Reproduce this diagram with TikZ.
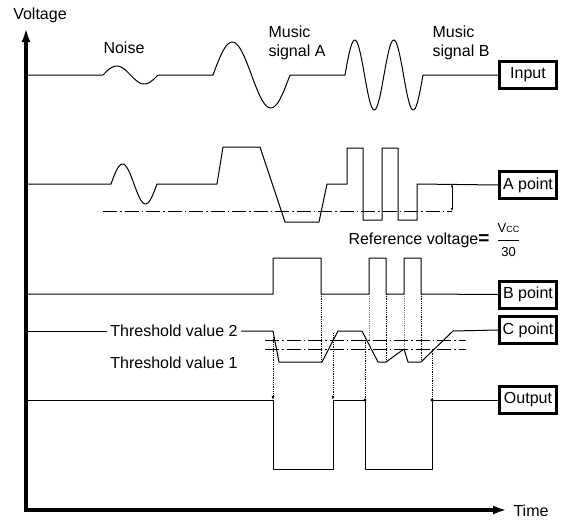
\documentclass[tikz,border=0pt]{standalone}
\usepackage{amsmath}
\usepackage{fontspec}
\setmainfont{Liberation Sans}
\usetikzlibrary{arrows.meta}

\begin{document}
\begin{tikzpicture}[x=1pt, y=-1pt,
        lbl/.style={font=\fontsize{16}{19}\selectfont},
        probe/.style={draw, line width=3pt, minimum width=57pt, minimum height=27pt, inner sep=1pt, font=\fontsize{16}{19}\selectfont},
        sig/.style={line width=1pt, line join=round},
        refline/.style={line width=0.9pt, dash pattern=on 14pt off 3pt on 1.5pt off 3pt},
        guide/.style={line width=0.8pt, densely dotted},
        axis/.style={line width=4pt, {Latex[length=14pt,width=9pt]}-{Latex[length=14pt,width=9pt]}}
    ]
        \useasboundingbox (0,0) rectangle (563,520);

        % axes
        \coordinate (top) at (26,28);
        \coordinate (right) at (507,510);
        \draw[axis] (top) |- (right);
        \node[lbl] (volt) at (40,15) {Voltage};
        \node[lbl, anchor=west] (time) at (510,511) {Time};

        % probe boxes
        \node[probe] (inp) at (528,75) {Input};
        \node[probe] (apt) at (528,185) {A point};
        \node[probe] (bpt) at (528,294.5) {B point};
        \node[probe] (cpt) at (528,330) {C point};
        \node[probe] (out) at (528,400) {Output};

        % labels
        \node[lbl] (noise) at (124,48) {Noise};
        \node[lbl, anchor=north west, align=left] (musa) at (265,22) {Music\\signal A};
        \node[lbl, anchor=north west, align=left] (musb) at (429,22) {Music\\signal B};
        \node[lbl, anchor=west] (ref) at (345,240) {Reference voltage{\fontsize{19}{19}\selectfont\textbf{=}}\hspace{7pt}$\dfrac{\text{\fontsize{13}{13}\selectfont V{\fontsize{9}{9}\selectfont CC}}}{\text{\fontsize{13}{13}\selectfont 30}}$};
        \node[lbl] (th2) at (174,331) {Threshold value 2};
        \node[lbl] (th1) at (174,363) {Threshold value 1};

        % input
        \draw[sig] (26,75) -- (103,75)
            -- plot[domain=103:158, samples=40, variable=\x] (\x, {75-9*sin((\x-103)/55*360)})
            -- (213,75)
            -- plot[domain=213:290, samples=60, variable=\x] (\x, {75-33*sin((\x-213)/77*360)})
            -- (345,75)
            -- plot[domain=345:423, samples=80, variable=\x] (\x, {75-35*sin((\x-345)/39*360)})
            -- (inp.west);

        % A point
        \draw[sig] (26,184) -- (111,184)
            -- plot[domain=111:157, samples=40, variable=\x] (\x, {184-20*sin((\x-111)/46*360)})
            -- (217,184) -- (223,147) -- (260,147) -- (285,222) -- (319,222) -- (327,184)
            -- (347,184) -- (347,148) -- (363,148) -- (363,220) -- (382,220) -- (382,148)
            -- (398,148) -- (398,220) -- (417,220) -- (417,184) -- (apt.west);
        \draw[refline] (103,211) -- (452,211);
        \draw[line width=0.8pt, {Latex[length=3pt,width=2.5pt]}-{Latex[length=3pt,width=2.5pt]}] (452,184) -- (452,211);

        % B point
        \draw[sig] (26,294) -- (273,294) -- (273,258) -- (321,258) -- (321,294) -- (369,294)
            -- (369,258) -- (386,258) -- (386,294) -- (404,294) -- (404,258) -- (421,258)
            -- (421,294) -- (bpt.west);

        % C point
        \draw[sig] (26,331) -- (th2.west);
        \draw[sig] (th2.east) -- (273,331) -- (279,362) -- (322,362) -- (338,331) -- (362,331)
            -- (378,362) -- (386,362) -- (404,349) -- (408,362) -- (421,362) -- (453,331)
            -- (cpt.west);
        \draw[refline] (265,340) -- (466,340);
        \draw[refline] (265,349) -- (466,349);

        % output
        \draw[sig] (26,400) -- (273,400) -- (273,469) -- (333,469) -- (333,400) -- (365,400)
            -- (365,469) -- (432,469) -- (432,400) -- (out.west);

        % guides
        \draw[guide] (321,294) -- (321,362);
        \draw[guide, gray] (369,294) -- (369,340);
        \draw[guide] (386,294) -- (386,362);
        \draw[guide, gray] (404,294) -- (404,349);
        \draw[guide] (421,294) -- (421,362);
        \draw[guide, -{Latex[length=4pt,width=3pt]}] (273,337) -- (273,400);
        \draw[guide, -{Latex[length=4pt,width=3pt]}] (333,333) -- (333,400);
        \draw[guide] (365,338) -- (365,400);
        \draw[guide] (432,349) -- (432,400);
        \fill (365,400) circle (1.6);
        \fill (432,400) circle (1.6);
    \end{tikzpicture}
\end{document}
